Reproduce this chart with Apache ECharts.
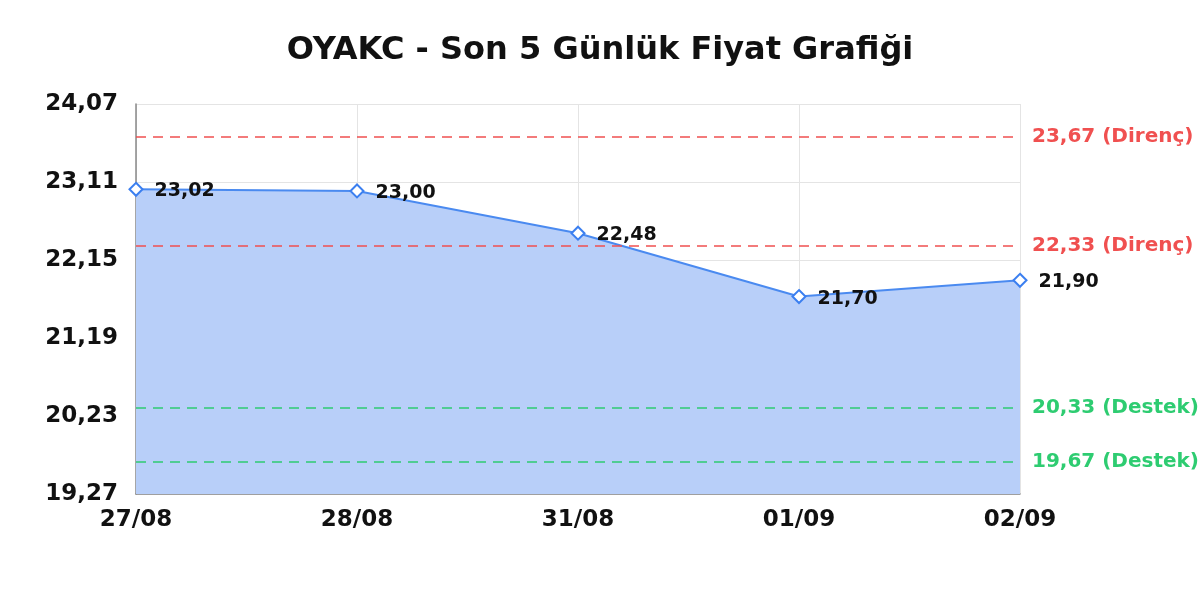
<!DOCTYPE html>
<html>
<head>
<meta charset="utf-8">
<script src="https://cdn.jsdelivr.net/npm/echarts@6/dist/echarts.min.js"></script>
<style>
    html, body {margin: 0; padding: 0; background: #fff;}
    #chart {width: 1200px; height: 600px;}
</style>
</head>
<body>
<div id="chart"></div>
<script>
const chart_title = 'OYAKC - Son 5 Günlük Fiyat Grafiği';
const dates = ['27/08', '28/08', '31/08', '01/09', '02/09'];
const prices = [23.02, 23.00, 22.48, 21.70, 21.90];
const resistance_levels = [23.67, 22.33];
const support_levels = [20.33, 19.67];
const y_min = 19.27;
const y_max = 24.07;
const y_step = 0.96;

function fmt(v) {
    return Number(v).toFixed(2).replace('.', ',');
}

let mark_data = [];
resistance_levels.forEach((v) => {
    mark_data.push({
        yAxis: v, lineStyle: {color: '#f05050'},
        label: {color: '#f05050', formatter: fmt(v) + ' (Direnç)'}
    });
});
support_levels.forEach((v) => {
    mark_data.push({
        yAxis: v, lineStyle: {color: '#2ecc71'},
        label: {color: '#2ecc71', formatter: fmt(v) + ' (Destek)'}
    });
});

let option = {
    animation: false,
    textStyle: {fontFamily: 'DejaVu Sans'},
    title: {
        text: chart_title, left: 'center', top: 30,
        textStyle: {fontSize: 32, fontWeight: 'bold', color: '#111', fontFamily: 'DejaVu Sans'}
    },
    grid: {left: 136, right: 180, top: 104, bottom: 106},
    xAxis: {
        type: 'category', data: dates, boundaryGap: false,
        axisLine: {lineStyle: {color: '#888', width: 1.5}},
        axisTick: {show: false},
        axisLabel: {fontSize: 23, fontWeight: 'bold', color: '#111', margin: 15, fontFamily: 'DejaVu Sans'},
        splitLine: {show: true, lineStyle: {color: '#e4e4e4'}}
    },
    yAxis: {
        type: 'value', min: y_min, max: y_max, interval: y_step,
        axisLine: {show: true, lineStyle: {color: '#888', width: 1.5}},
        axisTick: {show: false},
        axisLabel: {fontSize: 23, fontWeight: 'bold', color: '#111', margin: 18, formatter: fmt, fontFamily: 'DejaVu Sans'},
        splitLine: {lineStyle: {color: '#e4e4e4'}}
    },
    series: [{
        type: 'line', data: prices,
        symbol: 'diamond', symbolSize: 13, showAllSymbol: true,
        lineStyle: {color: '#4a8af0', width: 2},
        itemStyle: {color: '#fff', borderColor: '#3b7ff0', borderWidth: 2},
        areaStyle: {color: '#b8cff9', opacity: 1},
        label: {
            show: true, position: 'right', distance: 11, offset: [0, 2],
            fontSize: 19, fontWeight: 'bold', color: '#111', fontFamily: 'DejaVu Sans',
            formatter: (p) => fmt(p.value)
        },
        markLine: {
            silent: true, symbol: 'none',
            lineStyle: {type: [10, 7], width: 1.5},
            label: {position: 'end', fontSize: 20, fontWeight: 'bold', distance: 12, fontFamily: 'DejaVu Sans'},
            data: mark_data
        }
    }]
};

let my_chart = echarts.init(document.getElementById('chart'));
my_chart.setOption(option);
</script>
</body>
</html>
